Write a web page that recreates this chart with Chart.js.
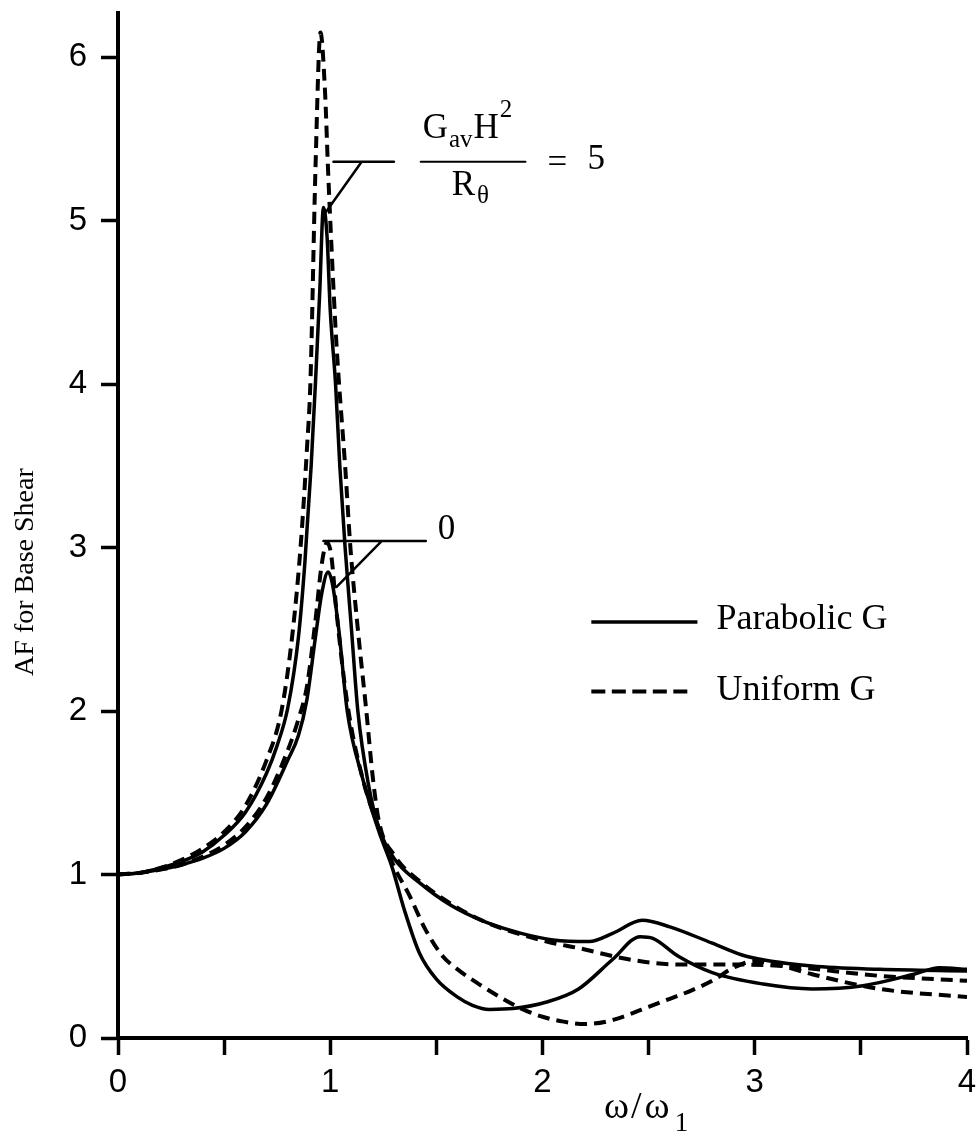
<!doctype html>
<html>
<head>
<meta charset="utf-8">
<title>AF for Base Shear</title>
<style>
  html, body { margin: 0; padding: 0; background: #fff; }
  canvas { display: block; }
</style>
<script src="https://cdn.jsdelivr.net/npm/chart.js@4/dist/chart.umd.min.js"></script>
</head>
<body>
<canvas id="chart" width="977" height="1138"></canvas>
<script>
"use strict";

// frequency ratio w/w1 and AF values
// parabolic G, GavH^2/Rtheta = 5
const parab5X = [0, 0.1, 0.2, 0.3, 0.4, 0.5, 0.6, 0.7, 0.75, 0.8, 0.85, 0.88, 0.91, 0.93, 0.95, 0.968, 0.985, 1.0, 1.025, 1.045, 1.07, 1.1, 1.13, 1.18, 1.23, 1.3, 1.42, 1.57, 1.73, 1.9, 2.05, 2.22, 2.33, 2.47, 2.6, 2.8, 2.96, 3.27, 3.59, 4.0];
const parab5Y = [1.0, 1.01, 1.04, 1.08, 1.14, 1.24, 1.38, 1.62, 1.79, 2.02, 2.45, 2.9, 3.5, 4.0, 4.55, 5.08, 4.9, 4.45, 4.0, 3.5, 3.0, 2.5, 2.0, 1.55, 1.28, 1.1, 0.95, 0.81, 0.71, 0.64, 0.6, 0.59, 0.64, 0.72, 0.68, 0.58, 0.5, 0.44, 0.42, 0.41];

// parabolic G, GavH^2/Rtheta = 0
const parab0X = [0, 0.1, 0.2, 0.3, 0.4, 0.5, 0.6, 0.7, 0.8, 0.85, 0.89, 0.93, 0.96, 0.99, 1.01, 1.04, 1.08, 1.15, 1.23, 1.29, 1.35, 1.42, 1.5, 1.6, 1.67, 1.75, 1.86, 2.02, 2.17, 2.33, 2.46, 2.52, 2.64, 2.8, 3.04, 3.27, 3.51, 3.75, 3.87, 4.0];
const parab0Y = [1.0, 1.01, 1.03, 1.06, 1.1, 1.16, 1.26, 1.43, 1.7, 1.85, 2.07, 2.45, 2.72, 2.85, 2.78, 2.5, 2.0, 1.6, 1.26, 1.05, 0.78, 0.52, 0.36, 0.25, 0.2, 0.175, 0.18, 0.22, 0.3, 0.48, 0.62, 0.61, 0.5, 0.4, 0.33, 0.3, 0.32, 0.39, 0.43, 0.42];

// uniform G, GavH^2/Rtheta = 5
const unif5X = [0, 0.1, 0.2, 0.3, 0.4, 0.5, 0.6, 0.7, 0.77, 0.82, 0.86, 0.89, 0.907, 0.93, 0.954, 0.975, 0.99, 1.025, 1.04, 1.07, 1.095, 1.13, 1.17, 1.2, 1.23, 1.3, 1.42, 1.57, 1.73, 2.02, 2.17, 2.41, 2.64, 2.9, 3.13, 3.59, 4.0];
const unif5Y = [1.0, 1.01, 1.04, 1.09, 1.16, 1.26, 1.42, 1.7, 2.0, 2.45, 3.0, 3.6, 4.03, 5.3, 6.15, 5.8, 5.3, 4.34, 4.03, 3.5, 3.0, 2.5, 2.0, 1.6, 1.32, 1.12, 0.96, 0.82, 0.71, 0.59, 0.55, 0.48, 0.45, 0.45, 0.44, 0.38, 0.35];

// uniform G, GavH^2/Rtheta = 0
const unif0X = [0, 0.1, 0.2, 0.3, 0.4, 0.5, 0.6, 0.7, 0.8, 0.85, 0.89, 0.93, 0.96, 0.985, 1.005, 1.03, 1.08, 1.15, 1.23, 1.3, 1.37, 1.45, 1.53, 1.6, 1.7, 1.8, 1.9, 2.0, 2.1, 2.2, 2.3, 2.4, 2.5, 2.6, 2.7, 2.8, 2.9, 3.0, 3.1, 3.27, 3.59, 4.0];
const unif0Y = [1.0, 1.01, 1.03, 1.06, 1.11, 1.18, 1.29, 1.47, 1.76, 1.95, 2.15, 2.55, 2.9, 3.03, 2.95, 2.6, 2.05, 1.6, 1.28, 1.05, 0.88, 0.66, 0.5, 0.42, 0.33, 0.25, 0.18, 0.13, 0.1, 0.085, 0.1, 0.14, 0.19, 0.24, 0.29, 0.35, 0.43, 0.47, 0.45, 0.39, 0.3, 0.25];

const xTickValues = [0, 0.5, 1, 1.5, 2, 2.5, 3, 3.5, 4];
const xTickLabels = ["0", "", "1", "", "2", "", "3", "", "4"];
const yTickValues = [0, 1, 2, 3, 4, 5, 6];
const yTickLabels = ["0", "1", "2", "3", "4", "5", "6"];

const seriesNames = ["Parabolic G", "Uniform G"];
const ratioLabels = ["5", "0"];

const SERIF = "'Liberation Serif', 'Times New Roman', serif";
const SANS = "'Liberation Sans', Arial, Helvetica, sans-serif";

function points(xs, ys) {
    return xs.map(function (v, i) { return { x: v, y: ys[i] }; });
}

function line(dash, width, xs, ys, label) {
    return {
        label: label,
        data: points(xs, ys),
        showLine: true,
        borderColor: "#000",
        borderWidth: width,
        borderDash: dash,
        pointRadius: 0,
        cubicInterpolationMode: "monotone",
        fill: false,
    };
}

// leader lines and labels, in data units
const lead5 = { tipX: 0.978, tipY: 5.05, kneeX: 1.148, fromX: 1.015, toX: 1.30, level: 5.36 };
const lead0 = { tipX: 1.03, tipY: 2.76, kneeX: 1.242, fromX: 0.968, toX: 1.45, level: 3.04 };

const overlay = {
    id: "overlay",
    afterDatasetsDraw(chart) {
        const ctx = chart.ctx;
        const area = chart.chartArea;
        const x = chart.scales.x;
        const y = chart.scales.y;
        ctx.save();
        ctx.strokeStyle = "#000";
        ctx.fillStyle = "#000";
        ctx.lineCap = "round";

        // leader lines
        [lead5, lead0].forEach(function (l) {
            ctx.lineWidth = 2.5;
            ctx.setLineDash([]);
            ctx.beginPath();
            ctx.moveTo(x.getPixelForValue(l.fromX), y.getPixelForValue(l.level));
            ctx.lineTo(x.getPixelForValue(l.toX), y.getPixelForValue(l.level));
            ctx.moveTo(x.getPixelForValue(l.kneeX), y.getPixelForValue(l.level));
            ctx.lineTo(x.getPixelForValue(l.tipX), y.getPixelForValue(l.tipY));
            ctx.stroke();
        });

        // fraction label  GavH^2 / Rtheta = 5
        const bx0 = x.getPixelForValue(1.426);
        const bx1 = x.getPixelForValue(1.92);
        const by = y.getPixelForValue(lead5.level);
        ctx.lineWidth = 2;
        ctx.beginPath();
        ctx.moveTo(bx0, by);
        ctx.lineTo(bx1, by);
        ctx.stroke();

        ctx.textBaseline = "alphabetic";
        ctx.textAlign = "left";
        let cx = bx0 + 2;
        ctx.font = "35px " + SERIF;
        ctx.fillText("G", cx, by - 24);
        cx += ctx.measureText("G").width + 1;
        ctx.font = "25px " + SERIF;
        ctx.fillText("av", cx, by - 15);
        cx += ctx.measureText("av").width + 1;
        ctx.font = "35px " + SERIF;
        ctx.fillText("H", cx, by - 24);
        cx += ctx.measureText("H").width + 1;
        ctx.font = "25px " + SERIF;
        ctx.fillText("2", cx, by - 45);

        cx = bx0 + 31;
        ctx.font = "35px " + SERIF;
        ctx.fillText("R", cx, by + 33);
        cx += ctx.measureText("R").width + 2;
        ctx.font = "25px " + SERIF;
        ctx.fillText("\u03b8", cx, by + 41);

        ctx.font = "35px " + SERIF;
        ctx.fillText("=", bx1 + 22, by + 11);
        ctx.fillText(ratioLabels[0], bx1 + 62, by + 7);

        ctx.fillText(ratioLabels[1], x.getPixelForValue(lead0.toX) + 12, y.getPixelForValue(lead0.level) - 2);

        // legend
        const lx0 = x.getPixelForValue(2.23);
        const lx1 = x.getPixelForValue(2.73);
        const tx = x.getPixelForValue(2.82);
        ctx.lineCap = "butt";
        ctx.lineWidth = 3.5;
        ctx.setLineDash([]);
        ctx.beginPath();
        ctx.moveTo(lx0, y.getPixelForValue(2.545));
        ctx.lineTo(lx1, y.getPixelForValue(2.545));
        ctx.stroke();
        ctx.lineWidth = 4;
        ctx.setLineDash([14, 6.5]);
        ctx.beginPath();
        ctx.moveTo(lx0, y.getPixelForValue(2.12));
        ctx.lineTo(lx1 - 6, y.getPixelForValue(2.12));
        ctx.stroke();
        ctx.setLineDash([]);
        ctx.font = "36px " + SERIF;
        ctx.fillText(seriesNames[0], tx, y.getPixelForValue(2.50));
        ctx.fillText(seriesNames[1], tx, y.getPixelForValue(2.07));

        // axis titles
        let ax = x.getPixelForValue(2.29);
        const ay = area.bottom + 80;
        ctx.font = "38px " + SERIF;
        ctx.fillText("\u03c9", ax, ay);
        ax += ctx.measureText("\u03c9").width + 2;
        ctx.fillText("/", ax, ay);
        ax += ctx.measureText("/").width + 3;
        ctx.fillText("\u03c9", ax, ay);
        ax += ctx.measureText("\u03c9").width + 5;
        ctx.font = "27px " + SERIF;
        ctx.fillText("1", ax, ay + 13);

        ctx.translate(area.left - 85, y.getPixelForValue(2.85));
        ctx.rotate(-Math.PI / 2);
        ctx.textAlign = "center";
        ctx.font = "28px " + SERIF;
        ctx.fillText("AF for Base Shear", 0, 0);
        ctx.restore();
    },
};

new Chart(document.getElementById("chart"), {
    type: "scatter",
    data: {
        datasets: [
            line([], 3.5, parab5X, parab5Y, seriesNames[0]),
            line([], 3.5, parab0X, parab0Y, seriesNames[0]),
            line([12, 7], 4, unif5X, unif5Y, seriesNames[1]),
            line([12, 7], 4, unif0X, unif0Y, seriesNames[1]),
        ],
    },
    options: {
        responsive: false,
        animation: false,
        layout: { padding: { top: 13, right: 10, left: 0, bottom: 0 } },
        plugins: {
            legend: { display: false },
            tooltip: { enabled: false },
        },
        scales: {
            x: {
                type: "linear",
                min: 0,
                max: 4,
                afterBuildTicks: function (axis) {
                    axis.ticks = xTickValues.map(function (v) { return { value: v }; });
                },
                afterFit: function (scale) {
                    scale.height = 100;
                    scale.paddingLeft = 0;
                    scale.paddingRight = 0;
                },
                ticks: {
                    autoSkip: false,
                    maxRotation: 0,
                    padding: 8,
                    color: "#000",
                    font: { family: SANS, size: 33 },
                    callback: function (v, i) { return xTickLabels[i]; },
                },
                grid: { drawOnChartArea: false, tickLength: 17, tickWidth: 3.5, tickColor: "#000" },
                border: { display: true, color: "#000", width: 4 },
            },
            y: {
                type: "linear",
                min: 0,
                max: 6.27,
                afterBuildTicks: function (axis) {
                    axis.ticks = yTickValues.map(function (v) { return { value: v }; });
                },
                afterFit: function (scale) {
                    scale.width = 118;
                    scale.paddingTop = 0;
                    scale.paddingBottom = 0;
                },
                ticks: {
                    padding: 14,
                    color: "#000",
                    font: { family: SANS, size: 33 },
                    callback: function (v, i) { return yTickLabels[i]; },
                },
                grid: { drawOnChartArea: false, tickLength: 17, tickWidth: 3.5, tickColor: "#000" },
                border: { display: true, color: "#000", width: 4 },
            },
        },
    },
    plugins: [overlay],
});
</script>
</body>
</html>
